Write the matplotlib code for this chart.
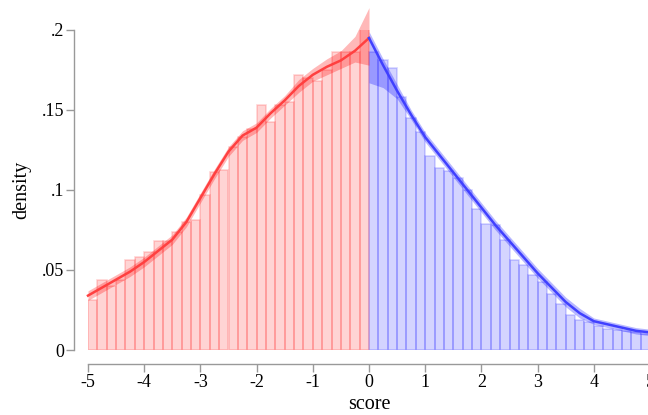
import numpy as np
import matplotlib.pyplot as plt

plt.rcParams['font.family'] = ['Liberation Serif', 'DejaVu Serif']

# histogram bins of width 1/6 on each side of the cutoff
bin_w = 1 / 6
left_heights = [0.031, 0.044, 0.040, 0.044, 0.056, 0.058, 0.061, 0.068, 0.068, 0.074,
                0.080, 0.081, 0.097, 0.111, 0.1125, 0.127, 0.133, 0.138, 0.153, 0.1425,
                0.153, 0.155, 0.172, 0.170, 0.168, 0.175, 0.186, 0.186, 0.186, 0.204]
right_heights = [0.186, 0.181, 0.176, 0.158, 0.145, 0.136, 0.121, 0.114, 0.112, 0.1075,
                 0.100, 0.088, 0.079, 0.078, 0.069, 0.056, 0.053, 0.047, 0.0425, 0.035,
                 0.029, 0.022, 0.019, 0.0175, 0.015, 0.013, 0.0125, 0.012, 0.011, 0.010]

# local polynomial fits with confidence bands
left_x = [-5, -4.75, -4.5, -4.25, -4, -3.75, -3.5, -3.25, -3, -2.75, -2.5, -2.25,
          -2, -1.75, -1.5, -1.25, -1, -0.75, -0.5, -0.25, 0]
left_fit = [0.034, 0.039, 0.044, 0.049, 0.055, 0.062, 0.069, 0.080, 0.095, 0.110, 0.124,
            0.134, 0.139, 0.148, 0.156, 0.165, 0.172, 0.177, 0.181, 0.187, 0.195]
left_lo = [0.031, 0.036, 0.041, 0.046, 0.052, 0.059, 0.066, 0.077, 0.092, 0.107, 0.121,
           0.131, 0.136, 0.145, 0.153, 0.161, 0.168, 0.172, 0.176, 0.180, 0.178]
left_hi = [0.037, 0.042, 0.047, 0.052, 0.058, 0.065, 0.072, 0.083, 0.098, 0.113, 0.127,
           0.137, 0.142, 0.151, 0.159, 0.169, 0.176, 0.182, 0.187, 0.196, 0.214]

right_x = [0, 0.25, 0.5, 0.75, 1, 1.25, 1.5, 1.75, 2, 2.25, 2.5, 2.75, 3, 3.25, 3.5,
           3.75, 4, 4.25, 4.5, 4.75, 5]
right_fit = [0.195, 0.178, 0.162, 0.147, 0.133, 0.122, 0.111, 0.100, 0.089, 0.078, 0.068,
             0.058, 0.048, 0.039, 0.030, 0.023, 0.018, 0.016, 0.014, 0.012, 0.011]
right_lo = [0.167, 0.164, 0.157, 0.144, 0.130, 0.119, 0.108, 0.097, 0.086, 0.075, 0.065,
            0.055, 0.045, 0.036, 0.027, 0.020, 0.016, 0.014, 0.012, 0.010, 0.009]
right_hi = [0.199, 0.182, 0.166, 0.150, 0.136, 0.125, 0.114, 0.103, 0.092, 0.081, 0.071,
            0.061, 0.051, 0.042, 0.033, 0.026, 0.020, 0.018, 0.016, 0.014, 0.013]

x_ticks = [-5, -4, -3, -2, -1, 0, 1, 2, 3, 4, 5]
y_ticks = [0, 0.05, 0.1, 0.15, 0.2]
y_labels = ['0', '.05', '.1', '.15', '.2']

fig = plt.figure(figsize=(6.48, 4.15), dpi=100)
ax = fig.add_axes([88 / 648, 65 / 415, 562 / 648, 320 / 415])

left_edges = -5 + bin_w * np.arange(len(left_heights))
right_edges = bin_w * np.arange(len(right_heights))
ax.bar(left_edges, left_heights, width=bin_w, align='edge',
       color=(1, 0, 0, 0.17), edgecolor=(1, 0, 0, 0.17), linewidth=1.2)
ax.bar(right_edges, right_heights, width=bin_w, align='edge',
       color=(0, 0, 1, 0.17), edgecolor=(0, 0, 1, 0.17), linewidth=1.2)

ax.fill_between(left_x, left_lo, left_hi, color=(1, 0, 0, 0.28), linewidth=0, clip_on=False)
ax.fill_between(right_x, right_lo, right_hi, color=(0, 0, 1, 0.28), linewidth=0, clip_on=False)
ax.plot(left_x, left_fit, color=(1, 0.25, 0.25), linewidth=1.8, clip_on=False)
ax.plot(right_x, right_fit, color=(0.25, 0.25, 1), linewidth=1.8, clip_on=False)

ax.set_xlim(-5, 5)
ax.set_ylim(0, 0.2)
ax.set_xticks(x_ticks)
ax.set_xticklabels([str(t) for t in x_ticks])
ax.set_yticks(y_ticks)
ax.set_yticklabels(y_labels)

for s in ['top', 'right']:
    ax.spines[s].set_visible(False)
ax.spines['left'].set_position(('outward', 10))
ax.spines['bottom'].set_position(('outward', 10))
for s in ['left', 'bottom']:
    ax.spines[s].set_color('#999999')
    ax.spines[s].set_linewidth(1)
ax.tick_params(axis='both', colors='#999999', labelcolor='black', labelsize=13,
               length=6, width=1)
ax.tick_params(axis='y', pad=1)
ax.tick_params(axis='x', pad=1)

ax.set_xlabel('score', fontsize=14.5, labelpad=3)
ax.set_ylabel('density', fontsize=14.5, labelpad=8)

fig.savefig('out.png', dpi=100)
